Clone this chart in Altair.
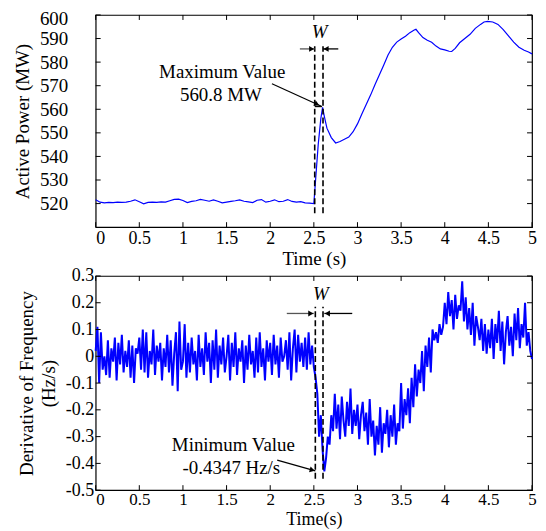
import altair as alt
import pandas as pd

FONT = "Liberation Serif"
BLUE = "#0000FF"

# ---------------- top panel: active power ----------------
power_time = [0.00, 0.05, 0.10, 0.15, 0.20, 0.25, 0.30, 0.35, 0.40, 0.45,
              0.50, 0.55, 0.60, 0.65, 0.70, 0.75, 0.80, 0.85, 0.90, 0.95,
              1.00, 1.05, 1.10, 1.15, 1.20, 1.25, 1.30, 1.35, 1.40, 1.45,
              1.50, 1.55, 1.60, 1.65, 1.70, 1.75, 1.80, 1.85, 1.90, 1.95,
              2.00, 2.05, 2.10, 2.15, 2.20, 2.25, 2.30, 2.35, 2.40, 2.45,
              2.50, 2.52, 2.55, 2.58, 2.60, 2.62, 2.65, 2.70, 2.75, 2.80,
              2.85, 2.90, 2.95, 3.00, 3.05, 3.10, 3.15, 3.20, 3.25, 3.30,
              3.35, 3.40, 3.45, 3.50, 3.55, 3.60, 3.65, 3.67, 3.70, 3.75,
              3.80, 3.85, 3.90, 3.95, 4.00, 4.05, 4.08, 4.12, 4.17, 4.23,
              4.29, 4.35, 4.41, 4.45, 4.49, 4.55, 4.61, 4.67, 4.73, 4.79,
              4.85, 4.91, 4.96, 5.00]
power_mw = [521.6, 520.6, 520.3, 520.5, 520.4, 520.6, 520.5, 520.6, 521.0, 521.6,
            520.8, 519.9, 520.5, 520.6, 520.5, 520.7, 520.6, 521.2, 521.8, 521.9,
            521.3, 520.4, 520.9, 521.2, 521.8, 521.4, 521.0, 521.6, 521.0, 520.3,
            520.6, 520.9, 521.2, 521.6, 521.0, 520.7, 520.4, 521.4, 521.7, 520.6,
            521.0, 521.6, 520.8, 521.0, 521.7, 520.9, 520.6, 520.8, 520.3, 520.2,
            520.0, 530.0, 545.0, 556.0, 560.8, 557.0, 552.0, 548.0, 545.7, 546.3,
            547.3, 548.2, 550.5, 553.8, 558.0, 562.0, 566.0, 570.4, 574.5, 578.7,
            583.0, 586.3, 588.5, 589.8, 591.0, 592.5, 593.6, 593.9, 592.5, 590.4,
            589.3, 588.4, 586.8, 585.6, 585.2, 584.6, 584.5, 585.8, 588.2, 590.0,
            591.8, 594.3, 596.0, 597.0, 597.3, 597.0, 596.0, 593.8, 591.1, 588.5,
            586.3, 585.0, 584.3, 583.5]

# ---------------- bottom panel: derivative of frequency ----------------
rate_time = [round(0.02 * i, 2) for i in range(251)]
rate_hz_s = [
    0.02, 0.11, -0.10, 0.09, -0.05, 0.00, -0.07, 0.06, -0.08, 0.03,
    -0.02, 0.07, -0.09, 0.05, -0.03, 0.08, -0.06, 0.02, -0.04, 0.06,
    -0.08, 0.04, -0.10, 0.03, 0.01, 0.07, -0.05, 0.10, -0.06, 0.09,
    -0.08, 0.02, -0.03, 0.10, -0.07, 0.04, -0.02, 0.05, -0.09, 0.03,
    -0.04, 0.08, -0.06, 0.06, -0.11, 0.01, 0.09, -0.13, 0.13, -0.05,
    -0.02, 0.12, -0.08, 0.05, -0.06, 0.07, -0.03, 0.02, -0.09, 0.08,
    -0.04, 0.03, -0.07, 0.09, -0.02, 0.05, -0.10, 0.06, -0.05, 0.10,
    -0.08, 0.04, -0.03, 0.07, -0.06, 0.00, 0.08, -0.09, 0.05, -0.04,
    0.09, -0.07, 0.03, -0.02, 0.06, -0.10, 0.04, -0.05, 0.08, -0.03,
    0.02, -0.08, 0.07, -0.06, 0.09, -0.04, 0.03, -0.09, 0.06, -0.02,
    0.05, -0.07, 0.08, -0.03, 0.04, -0.08, 0.07, -0.02, 0.00, 0.06,
    -0.05, 0.09, -0.09, 0.03, 0.10, -0.06, 0.08, -0.02, 0.05, -0.04,
    0.07, -0.05, 0.09, -0.03, 0.04,
    -0.04, -0.08, -0.14, -0.30, -0.22, -0.35, -0.43, -0.38, -0.30, -0.33,
    -0.22, -0.28, -0.14, -0.27, -0.18, -0.31, -0.15, -0.24, -0.30, -0.17,
    -0.26, -0.12, -0.29, -0.20, -0.26,
    -0.18, -0.31, -0.22, -0.17, -0.28, -0.21, -0.33, -0.16, -0.30, -0.24,
    -0.37, -0.26, -0.33, -0.19, -0.36, -0.25, -0.29, -0.20, -0.34, -0.22,
    -0.30, -0.18, -0.33, -0.25, -0.28,
    -0.10, -0.27, -0.16, -0.22, -0.12, -0.25, -0.08, -0.19, -0.03, -0.15,
    -0.05, -0.10, 0.02, -0.13, 0.04, -0.04, 0.07, -0.06, 0.10, 0.06,
    0.09, 0.05, 0.12, 0.08, 0.11,
    0.20, 0.12, 0.24, 0.15, 0.21, 0.10, 0.23, 0.14, 0.19, 0.17,
    0.28, 0.13, 0.22, 0.10, 0.18, 0.08, 0.20, 0.04, 0.15, 0.11,
    0.06, 0.14, 0.02, 0.12, 0.01,
    0.10, 0.03, 0.14, -0.01, 0.12, 0.05, 0.17, 0.02, 0.13, -0.03,
    0.09, 0.15, 0.04, 0.11, 0.00, 0.16, 0.06, 0.18, 0.03, 0.12,
    0.07, 0.20, 0.04, 0.09, 0.02, -0.01]

assert len(power_time) == len(power_mw)
assert len(rate_time) == len(rate_hz_s)

# ---------------- tick values ----------------
time_ticks = [0, 0.5, 1, 1.5, 2, 2.5, 3, 3.5, 4, 4.5, 5]
power_ticks = [520, 530, 540, 550, 560, 570, 580, 590, 600]
rate_ticks = [-0.5, -0.4, -0.3, -0.2, -0.1, 0, 0.1, 0.2, 0.3]

# ---------------- annotations (data coordinates) ----------------
top_window_t = [2.51, 2.605]
top_window_lo, top_window_hi = 515.9, 586.7
top_arrow_y = 585.6
top_left_arrow = (2.34, 2.51)
top_right_arrow = (2.78, 2.605)
top_peak_seg = (2.51, 2.594, 561.2)
top_w_pos = (2.566, 592.6)
top_labels = ["Maximum Value", "560.8 MW"]
top_label_t = [1.45, 1.435]
top_label_v = [575.9, 566.0]
top_diag = (2.02, 570.8, 2.58, 561.4)

bot_window_t = [2.517, 2.605]
bot_window_lo, bot_window_hi = -0.457, 0.185
bot_arrow_y = 0.16
bot_left_arrow = (2.19, 2.50)
bot_right_arrow = (2.94, 2.62)
bot_w_pos = (2.58, 0.234)
bot_labels = ["Minimum Value", "-0.4347 Hz/s"]
bot_label_t = [1.578, 1.555]
bot_label_v = [-0.333, -0.419]
bot_diag = (2.08, -0.388, 2.517, -0.428)

W = 438
H1 = 213
H2 = 215
TICK = 5

xs = alt.Scale(domain=[0, 5], nice=False, zero=False)
ys1 = alt.Scale(domain=[510, 600], nice=False, zero=False)
ys2 = alt.Scale(domain=[-0.5, 0.3], nice=False, zero=False)

LABEL_EXPR = "'' + datum.value"


def x_axis(title, label_size, title_size, label_pad, title_pad):
    return alt.Axis(values=time_ticks, labelExpr=LABEL_EXPR, title=title,
                    tickSize=0, domain=False, grid=False, labelOverlap=False,
                    labelFont=FONT, labelFontSize=label_size, labelColor="black",
                    titleFont=FONT, titleFontSize=title_size, titleFontWeight="normal",
                    titleColor="black", labelPadding=label_pad, titlePadding=title_pad,
                    labelAlign={"condition": {"test": "datum.value == 0", "value": "left"},
                                "value": "center"})


def y_axis(yticks, ytitle, label_size, ylab_pad, ytitle_pad, top_value):
    kw = dict(values=yticks, labelExpr=LABEL_EXPR, title=ytitle,
              tickSize=0, domain=False, grid=False, labelOverlap=False,
              labelFont=FONT, labelFontSize=label_size, labelColor="black",
              titleFont=FONT, titleFontSize=19, titleFontWeight="normal",
              titleColor="black", labelPadding=ylab_pad,
              titlePadding=ytitle_pad, titleLineHeight=22)
    if top_value is not None:
        test = f"datum.value == {top_value}"
        kw["labelBaseline"] = {"condition": {"test": test, "value": "top"},
                               "value": "middle"}
        kw["labelOffset"] = {"condition": {"test": test, "value": -5}, "value": 0}
    return alt.Axis(**kw)


def build_panel(df, yfield, yscale, yticks, ytitle, h, xtitle, line_w,
                ylab_size, ylab_pad, ytitle_pad, top_value,
                xlab_size, xtitle_size, xlab_pad, xtitle_pad,
                win_t, win_lo, win_hi, arrow_y, left_arrow, right_arrow,
                w_pos, labels, label_t, label_v, diag, diag_angle, seg=None):
    xa = x_axis(xtitle, xlab_size, xtitle_size, xlab_pad, xtitle_pad)
    ya = y_axis(yticks, ytitle, ylab_size, ylab_pad, ytitle_pad, top_value)
    X = lambda f: alt.X(f"{f}:Q", scale=xs, axis=xa)
    Y = lambda f: alt.Y(f"{f}:Q", scale=yscale, axis=ya)

    layers = [alt.Chart(df).mark_line(color=BLUE, strokeWidth=line_w).encode(
        x=X("t"), y=Y(yfield))]

    # analysis window (dashed)
    wdf = pd.DataFrame({"t": win_t, "lo": [win_lo] * 2, "hi": [win_hi] * 2})
    layers.append(alt.Chart(wdf).mark_rule(color="black", strokeWidth=1.6,
                                           strokeDash=[6, 3]).encode(
        x=X("t"), y=Y("lo"), y2=alt.Y2("hi")))
    # W arrows
    adf = pd.DataFrame({"t": [left_arrow[0]], "b": [left_arrow[1]], "y": [arrow_y]})
    layers.append(alt.Chart(adf).mark_rule(color="#555555", strokeWidth=1.3).encode(
        x=X("t"), x2=alt.X2("b"), y=Y("y")))
    bdf = pd.DataFrame({"t": [right_arrow[0]], "b": [right_arrow[1]], "y": [arrow_y]})
    layers.append(alt.Chart(bdf).mark_rule(color="black", strokeWidth=1.3).encode(
        x=X("t"), x2=alt.X2("b"), y=Y("y")))
    hl = pd.DataFrame({"t": [left_arrow[1] - 0.035], "y": [arrow_y]})
    layers.append(alt.Chart(hl).mark_point(shape="triangle-right", filled=True,
                                           color="black", size=35, opacity=1).encode(
        x=X("t"), y=Y("y")))
    hr = pd.DataFrame({"t": [right_arrow[1] + 0.035], "y": [arrow_y]})
    layers.append(alt.Chart(hr).mark_point(shape="triangle-left", filled=True,
                                           color="black", size=35, opacity=1).encode(
        x=X("t"), y=Y("y")))
    if seg is not None:
        sdf = pd.DataFrame({"t": [seg[0]], "b": [seg[1]], "y": [seg[2]]})
        layers.append(alt.Chart(sdf).mark_rule(color="black", strokeWidth=1.5).encode(
            x=X("t"), x2=alt.X2("b"), y=Y("y")))
    # diagonal pointer
    ddf = pd.DataFrame({"t": [diag[0]], "y": [diag[1]], "b": [diag[2]], "yb": [diag[3]]})
    layers.append(alt.Chart(ddf).mark_rule(color="black", strokeWidth=1.2).encode(
        x=X("t"), y=Y("y"), x2=alt.X2("b"), y2=alt.Y2("yb")))
    frac = 0.08
    hd = pd.DataFrame({"t": [diag[2] - (diag[2] - diag[0]) * frac],
                       "y": [diag[3] - (diag[3] - diag[1]) * frac]})
    layers.append(alt.Chart(hd).mark_point(shape="triangle-right", filled=True,
                                           color="black", size=35, opacity=1,
                                           angle=diag_angle).encode(
        x=X("t"), y=Y("y")))
    # texts
    tdf = pd.DataFrame({"txt": labels, "t": label_t, "y": label_v})
    layers.append(alt.Chart(tdf).mark_text(font=FONT, fontSize=19, color="black",
                                           align="center", baseline="middle").encode(
        x=X("t"), y=Y("y"), text="txt:N"))
    wtxt = pd.DataFrame({"txt": ["W"], "t": [w_pos[0]], "y": [w_pos[1]]})
    layers.append(alt.Chart(wtxt).mark_text(font=FONT, fontSize=19, fontStyle="italic",
                                            color="black", align="center",
                                            baseline="middle").encode(
        x=X("t"), y=Y("y"), text="txt:N"))

    # inward tick marks on all four sides
    xt = alt.Chart(pd.DataFrame({"t": time_ticks}))
    yt = alt.Chart(pd.DataFrame({"y": yticks}))
    tk = dict(color="black", strokeWidth=1)
    layers += [
        xt.mark_rule(**tk).encode(x=X("t"), y=alt.value(h), y2=alt.value(h - TICK)),
        xt.mark_rule(**tk).encode(x=X("t"), y=alt.value(0), y2=alt.value(TICK)),
        yt.mark_rule(**tk).encode(y=Y("y"), x=alt.value(0), x2=alt.value(TICK)),
        yt.mark_rule(**tk).encode(y=Y("y"), x=alt.value(W), x2=alt.value(W - TICK)),
    ]
    return alt.layer(*layers).properties(width=W, height=h)


top_df = pd.DataFrame({"t": power_time, "p": power_mw})
bot_df = pd.DataFrame({"t": rate_time, "r": rate_hz_s})

top = build_panel(top_df, "p", ys1, power_ticks, "Active Power (MW)", H1,
                  "Time (s)", 1.2,
                  19, 28, 7, 600,
                  18, 19, 2, 2,
                  top_window_t, top_window_lo, top_window_hi, top_arrow_y,
                  top_left_arrow, top_right_arrow, top_w_pos, top_labels,
                  top_label_t, top_label_v, top_diag, 25, seg=top_peak_seg)
bottom = build_panel(bot_df, "r", ys2, rate_ticks,
                     ["Derivative of Frequency", "(Hz/s)"], H2,
                     "Time(s)", 2.0,
                     18, 2, 7, None,
                     17, 18, 1, 3,
                     bot_window_t, bot_window_lo, bot_window_hi, bot_arrow_y,
                     bot_left_arrow, bot_right_arrow, bot_w_pos, bot_labels,
                     bot_label_t, bot_label_v, bot_diag, 15)

chart = alt.vconcat(top, bottom, spacing=49, bounds="flush").properties(
    padding={"left": 4, "top": 0, "right": 0, "bottom": 0},
    background="white",
).configure_view(stroke="black", strokeWidth=1.2)

chart.save("out.html", embed_options={"renderer": "svg", "actions": False})
